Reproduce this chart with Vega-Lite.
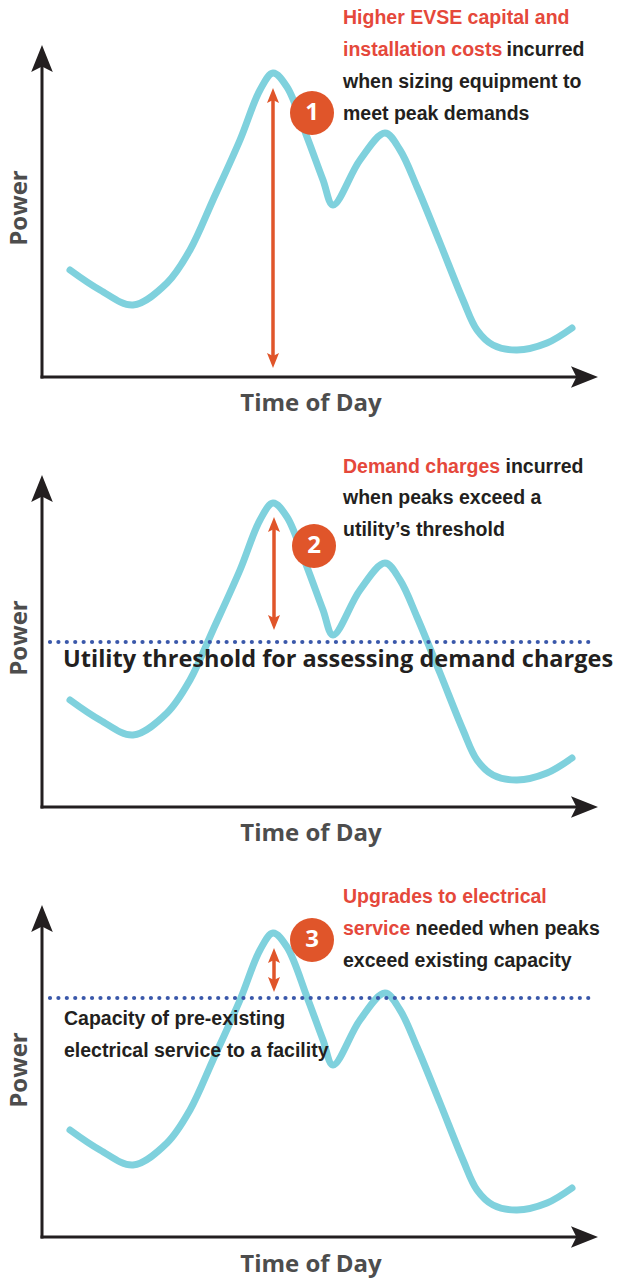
{
  "$schema": "https://vega.github.io/schema/vega-lite/v6.json",
  "padding": 0,
  "spacing": 0,
  "bounds": "flush",
  "background": "white",
  "config": {"view": {"stroke": null}, "axis": {"disable": true}},
  "datasets": {
    "one": [{}],
    "curve": [
      {"t": 28, "power": 107}, {"t": 58, "power": 87}, {"t": 91, "power": 72}, {"t": 125, "power": 94},
      {"t": 148, "power": 127}, {"t": 171, "power": 177}, {"t": 198, "power": 237}, {"t": 218, "power": 287},
      {"t": 231, "power": 304}, {"t": 245, "power": 290}, {"t": 265, "power": 240}, {"t": 281, "power": 197},
      {"t": 291, "power": 172}, {"t": 318, "power": 217}, {"t": 343, "power": 244}, {"t": 358, "power": 227},
      {"t": 375, "power": 190}, {"t": 398, "power": 134}, {"t": 421, "power": 77}, {"t": 435, "power": 47},
      {"t": 451, "power": 32}, {"t": 475, "power": 27}, {"t": 505, "power": 34}, {"t": 530, "power": 49}
    ]
  },
  "vconcat": [
    {
      "width": 623, "height": 430,
      "data": {"name": "one"},
      "layer": [
        {"mark": {"type": "rule", "stroke": "#231f20", "strokeWidth": 3},
         "encoding": {"x": {"datum": 0, "type": "quantitative", "scale": {"domain": [-42, 581], "nice": false, "zero": false}},
                      "y": {"datum": -1.5, "type": "quantitative", "scale": {"domain": [-53, 377], "nice": false, "zero": false}},
                      "y2": {"datum": 312}}},
        {"mark": {"type": "rule", "stroke": "#231f20", "strokeWidth": 3},
         "encoding": {"y": {"datum": 0, "type": "quantitative"}, "x": {"datum": -1.5, "type": "quantitative"}, "x2": {"datum": 537}}},
        {"mark": {"type": "point", "shape": "M0,0L0.8,2L0,1.6L-0.8,2Z", "filled": true, "size": 729, "color": "#231f20", "opacity": 1, "strokeWidth": 0},
         "encoding": {"x": {"datum": 0, "type": "quantitative"}, "y": {"datum": 332, "type": "quantitative"}}},
        {"mark": {"type": "point", "shape": "M0,0L-2,0.8L-1.6,0L-2,-0.8Z", "filled": true, "size": 729, "color": "#231f20", "opacity": 1, "strokeWidth": 0},
         "encoding": {"x": {"datum": 556, "type": "quantitative"}, "y": {"datum": 0, "type": "quantitative"}}},
        {"mark": {"type": "text", "text": "Power", "angle": 270, "font": "Open Sans", "fontWeight": "bold", "fontSize": 24, "color": "#4d4d4d", "align": "center", "baseline": "alphabetic"},
         "encoding": {"x": {"datum": -15, "type": "quantitative"}, "y": {"datum": 169, "type": "quantitative"}}},
        {"mark": {"type": "text", "text": "Time of Day", "font": "Open Sans", "fontWeight": "bold", "fontSize": 24, "color": "#4d4d4d", "align": "center", "baseline": "middle"},
         "encoding": {"x": {"datum": 269, "type": "quantitative"}, "y": {"datum": -27, "type": "quantitative"}}},
        {"data": {"name": "curve"},
         "mark": {"type": "line", "interpolate": "catmull-rom", "stroke": "#7fd1dd", "strokeWidth": 7, "strokeCap": "round", "strokeJoin": "round"},
         "encoding": {"x": {"field": "t", "type": "quantitative", "scale": {"domain": [-42, 581], "nice": false, "zero": false}},
                      "y": {"field": "power", "type": "quantitative", "scale": {"domain": [-53, 377], "nice": false, "zero": false}}}},
        {"mark": {"type": "rule", "stroke": "#e0552a", "strokeWidth": 3.5},
         "encoding": {"x": {"datum": 231, "type": "quantitative"}, "y": {"datum": 20, "type": "quantitative"}, "y2": {"datum": 278}}},
        {"mark": {"type": "point", "shape": "M0,0L0.8,2L0,1.6L-0.8,2Z", "filled": true, "size": 225, "color": "#e0552a", "opacity": 1, "strokeWidth": 0},
         "encoding": {"x": {"datum": 231, "type": "quantitative"}, "y": {"datum": 289, "type": "quantitative"}}},
        {"mark": {"type": "point", "shape": "M0,0L0.8,-2L0,-1.6L-0.8,-2Z", "filled": true, "size": 225, "color": "#e0552a", "opacity": 1, "strokeWidth": 0},
         "encoding": {"x": {"datum": 231, "type": "quantitative"}, "y": {"datum": 9, "type": "quantitative"}}},
        {"mark": {"type": "point", "shape": "circle", "filled": true, "size": 1936, "color": "#e0552a", "opacity": 1, "strokeWidth": 0},
         "encoding": {"x": {"datum": 270, "type": "quantitative"}, "y": {"datum": 264, "type": "quantitative"}}},
        {"mark": {"type": "text", "text": "1", "font": "Open Sans", "fontWeight": "bold", "fontSize": 24, "color": "white", "align": "center", "baseline": "middle"},
         "encoding": {"x": {"datum": 270, "type": "quantitative"}, "y": {"datum": 264, "type": "quantitative"}}},
        {"mark": {"type": "text", "text": "Higher EVSE capital and\ninstallation costs", "lineBreak": "\n", "lineHeight": 32, "font": "Liberation Sans", "fontWeight": "bold", "fontSize": 19.5, "color": "#e5483b", "align": "left", "baseline": "middle"},
         "encoding": {"x": {"datum": 301, "type": "quantitative"}, "y": {"datum": 359, "type": "quantitative"}}},
        {"mark": {"type": "text", "text": "incurred", "font": "Liberation Sans", "fontWeight": "bold", "fontSize": 19.5, "color": "#231f20", "align": "left", "baseline": "middle"},
         "encoding": {"x": {"datum": 464.5, "type": "quantitative"}, "y": {"datum": 327, "type": "quantitative"}}},
        {"mark": {"type": "text", "text": "when sizing equipment to\nmeet peak demands", "lineBreak": "\n", "lineHeight": 32, "font": "Liberation Sans", "fontWeight": "bold", "fontSize": 19.5, "color": "#231f20", "align": "left", "baseline": "middle"},
         "encoding": {"x": {"datum": 301, "type": "quantitative"}, "y": {"datum": 295, "type": "quantitative"}}}
      ]
    },
    {
      "width": 623, "height": 430,
      "data": {"name": "one"},
      "layer": [
        {"mark": {"type": "rule", "stroke": "#231f20", "strokeWidth": 3},
         "encoding": {"x": {"datum": 0, "type": "quantitative", "scale": {"domain": [-42, 581], "nice": false, "zero": false}},
                      "y": {"datum": -1.5, "type": "quantitative", "scale": {"domain": [-53, 377], "nice": false, "zero": false}},
                      "y2": {"datum": 312}}},
        {"mark": {"type": "rule", "stroke": "#231f20", "strokeWidth": 3},
         "encoding": {"y": {"datum": 0, "type": "quantitative"}, "x": {"datum": -1.5, "type": "quantitative"}, "x2": {"datum": 537}}},
        {"mark": {"type": "point", "shape": "M0,0L0.8,2L0,1.6L-0.8,2Z", "filled": true, "size": 729, "color": "#231f20", "opacity": 1, "strokeWidth": 0},
         "encoding": {"x": {"datum": 0, "type": "quantitative"}, "y": {"datum": 332, "type": "quantitative"}}},
        {"mark": {"type": "point", "shape": "M0,0L-2,0.8L-1.6,0L-2,-0.8Z", "filled": true, "size": 729, "color": "#231f20", "opacity": 1, "strokeWidth": 0},
         "encoding": {"x": {"datum": 556, "type": "quantitative"}, "y": {"datum": 0, "type": "quantitative"}}},
        {"mark": {"type": "text", "text": "Power", "angle": 270, "font": "Open Sans", "fontWeight": "bold", "fontSize": 24, "color": "#4d4d4d", "align": "center", "baseline": "alphabetic"},
         "encoding": {"x": {"datum": -15, "type": "quantitative"}, "y": {"datum": 169, "type": "quantitative"}}},
        {"mark": {"type": "text", "text": "Time of Day", "font": "Open Sans", "fontWeight": "bold", "fontSize": 24, "color": "#4d4d4d", "align": "center", "baseline": "middle"},
         "encoding": {"x": {"datum": 269, "type": "quantitative"}, "y": {"datum": -27, "type": "quantitative"}}},
        {"data": {"name": "curve"},
         "mark": {"type": "line", "interpolate": "catmull-rom", "stroke": "#7fd1dd", "strokeWidth": 7, "strokeCap": "round", "strokeJoin": "round"},
         "encoding": {"x": {"field": "t", "type": "quantitative", "scale": {"domain": [-42, 581], "nice": false, "zero": false}},
                      "y": {"field": "power", "type": "quantitative", "scale": {"domain": [-53, 377], "nice": false, "zero": false}}}},
        {"mark": {"type": "rule", "stroke": "#3a58aa", "strokeWidth": 4.2, "strokeDash": [0.01, 8.4], "strokeCap": "round"},
         "encoding": {"y": {"datum": 165, "type": "quantitative"}, "x": {"datum": 8, "type": "quantitative"}, "x2": {"datum": 554}}},
        {"mark": {"type": "text", "text": "Utility threshold for assessing demand charges", "font": "Open Sans", "fontWeight": "bold", "fontSize": 23.5, "color": "#231f20", "align": "left", "baseline": "middle"},
         "encoding": {"x": {"datum": 21, "type": "quantitative"}, "y": {"datum": 147, "type": "quantitative"}}},
        {"mark": {"type": "rule", "stroke": "#e0552a", "strokeWidth": 3.5},
         "encoding": {"x": {"datum": 232, "type": "quantitative"}, "y": {"datum": 188, "type": "quantitative"}, "y2": {"datum": 279}}},
        {"mark": {"type": "point", "shape": "M0,0L0.8,2L0,1.6L-0.8,2Z", "filled": true, "size": 225, "color": "#e0552a", "opacity": 1, "strokeWidth": 0},
         "encoding": {"x": {"datum": 232, "type": "quantitative"}, "y": {"datum": 290, "type": "quantitative"}}},
        {"mark": {"type": "point", "shape": "M0,0L0.8,-2L0,-1.6L-0.8,-2Z", "filled": true, "size": 225, "color": "#e0552a", "opacity": 1, "strokeWidth": 0},
         "encoding": {"x": {"datum": 232, "type": "quantitative"}, "y": {"datum": 177, "type": "quantitative"}}},
        {"mark": {"type": "point", "shape": "circle", "filled": true, "size": 1936, "color": "#e0552a", "opacity": 1, "strokeWidth": 0},
         "encoding": {"x": {"datum": 272, "type": "quantitative"}, "y": {"datum": 261, "type": "quantitative"}}},
        {"mark": {"type": "text", "text": "2", "font": "Open Sans", "fontWeight": "bold", "fontSize": 24, "color": "white", "align": "center", "baseline": "middle"},
         "encoding": {"x": {"datum": 272, "type": "quantitative"}, "y": {"datum": 261, "type": "quantitative"}}},
        {"mark": {"type": "text", "text": "Demand charges", "font": "Liberation Sans", "fontWeight": "bold", "fontSize": 19.5, "color": "#e5483b", "align": "left", "baseline": "middle"},
         "encoding": {"x": {"datum": 301, "type": "quantitative"}, "y": {"datum": 340, "type": "quantitative"}}},
        {"mark": {"type": "text", "text": "incurred", "font": "Liberation Sans", "fontWeight": "bold", "fontSize": 19.5, "color": "#231f20", "align": "left", "baseline": "middle"},
         "encoding": {"x": {"datum": 463.5, "type": "quantitative"}, "y": {"datum": 340, "type": "quantitative"}}},
        {"mark": {"type": "text", "text": "when peaks exceed a\nutility’s threshold", "lineBreak": "\n", "lineHeight": 32, "font": "Liberation Sans", "fontWeight": "bold", "fontSize": 19.5, "color": "#231f20", "align": "left", "baseline": "middle"},
         "encoding": {"x": {"datum": 301, "type": "quantitative"}, "y": {"datum": 309, "type": "quantitative"}}}
      ]
    },
    {
      "width": 623, "height": 420,
      "data": {"name": "one"},
      "layer": [
        {"mark": {"type": "rule", "stroke": "#231f20", "strokeWidth": 3},
         "encoding": {"x": {"datum": 0, "type": "quantitative", "scale": {"domain": [-42, 581], "nice": false, "zero": false}},
                      "y": {"datum": -1.5, "type": "quantitative", "scale": {"domain": [-43, 377], "nice": false, "zero": false}},
                      "y2": {"datum": 312}}},
        {"mark": {"type": "rule", "stroke": "#231f20", "strokeWidth": 3},
         "encoding": {"y": {"datum": 0, "type": "quantitative"}, "x": {"datum": -1.5, "type": "quantitative"}, "x2": {"datum": 537}}},
        {"mark": {"type": "point", "shape": "M0,0L0.8,2L0,1.6L-0.8,2Z", "filled": true, "size": 729, "color": "#231f20", "opacity": 1, "strokeWidth": 0},
         "encoding": {"x": {"datum": 0, "type": "quantitative"}, "y": {"datum": 332, "type": "quantitative"}}},
        {"mark": {"type": "point", "shape": "M0,0L-2,0.8L-1.6,0L-2,-0.8Z", "filled": true, "size": 729, "color": "#231f20", "opacity": 1, "strokeWidth": 0},
         "encoding": {"x": {"datum": 556, "type": "quantitative"}, "y": {"datum": 0, "type": "quantitative"}}},
        {"mark": {"type": "text", "text": "Power", "angle": 270, "font": "Open Sans", "fontWeight": "bold", "fontSize": 24, "color": "#4d4d4d", "align": "center", "baseline": "alphabetic"},
         "encoding": {"x": {"datum": -15, "type": "quantitative"}, "y": {"datum": 167, "type": "quantitative"}}},
        {"mark": {"type": "text", "text": "Time of Day", "font": "Open Sans", "fontWeight": "bold", "fontSize": 24, "color": "#4d4d4d", "align": "center", "baseline": "middle"},
         "encoding": {"x": {"datum": 269, "type": "quantitative"}, "y": {"datum": -28, "type": "quantitative"}}},
        {"data": {"name": "curve"},
         "mark": {"type": "line", "interpolate": "catmull-rom", "stroke": "#7fd1dd", "strokeWidth": 7, "strokeCap": "round", "strokeJoin": "round"},
         "encoding": {"x": {"field": "t", "type": "quantitative", "scale": {"domain": [-42, 581], "nice": false, "zero": false}},
                      "y": {"field": "power", "type": "quantitative", "scale": {"domain": [-43, 377], "nice": false, "zero": false}}}},
        {"mark": {"type": "rule", "stroke": "#3a58aa", "strokeWidth": 4.2, "strokeDash": [0.01, 8.4], "strokeCap": "round"},
         "encoding": {"y": {"datum": 239, "type": "quantitative"}, "x": {"datum": 8, "type": "quantitative"}, "x2": {"datum": 554}}},
        {"mark": {"type": "text", "text": "Capacity of pre-existing\nelectrical service to a facility", "lineBreak": "\n", "lineHeight": 32, "font": "Liberation Sans", "fontWeight": "bold", "fontSize": 19.5, "color": "#231f20", "align": "left", "baseline": "middle"},
         "encoding": {"x": {"datum": 22, "type": "quantitative"}, "y": {"datum": 218, "type": "quantitative"}}},
        {"mark": {"type": "rule", "stroke": "#e0552a", "strokeWidth": 3.5},
         "encoding": {"x": {"datum": 232, "type": "quantitative"}, "y": {"datum": 256, "type": "quantitative"}, "y2": {"datum": 278}}},
        {"mark": {"type": "point", "shape": "M0,0L0.8,2L0,1.6L-0.8,2Z", "filled": true, "size": 225, "color": "#e0552a", "opacity": 1, "strokeWidth": 0},
         "encoding": {"x": {"datum": 232, "type": "quantitative"}, "y": {"datum": 289, "type": "quantitative"}}},
        {"mark": {"type": "point", "shape": "M0,0L0.8,-2L0,-1.6L-0.8,-2Z", "filled": true, "size": 225, "color": "#e0552a", "opacity": 1, "strokeWidth": 0},
         "encoding": {"x": {"datum": 232, "type": "quantitative"}, "y": {"datum": 245, "type": "quantitative"}}},
        {"mark": {"type": "point", "shape": "circle", "filled": true, "size": 1936, "color": "#e0552a", "opacity": 1, "strokeWidth": 0},
         "encoding": {"x": {"datum": 270, "type": "quantitative"}, "y": {"datum": 297, "type": "quantitative"}}},
        {"mark": {"type": "text", "text": "3", "font": "Open Sans", "fontWeight": "bold", "fontSize": 24, "color": "white", "align": "center", "baseline": "middle"},
         "encoding": {"x": {"datum": 270, "type": "quantitative"}, "y": {"datum": 297, "type": "quantitative"}}},
        {"mark": {"type": "text", "text": "Upgrades to electrical\nservice", "lineBreak": "\n", "lineHeight": 32, "font": "Liberation Sans", "fontWeight": "bold", "fontSize": 19.5, "color": "#e5483b", "align": "left", "baseline": "middle"},
         "encoding": {"x": {"datum": 301, "type": "quantitative"}, "y": {"datum": 340, "type": "quantitative"}}},
        {"mark": {"type": "text", "text": "needed when peaks", "font": "Liberation Sans", "fontWeight": "bold", "fontSize": 19.5, "color": "#231f20", "align": "left", "baseline": "middle"},
         "encoding": {"x": {"datum": 373.5, "type": "quantitative"}, "y": {"datum": 308, "type": "quantitative"}}},
        {"mark": {"type": "text", "text": "exceed existing capacity", "font": "Liberation Sans", "fontWeight": "bold", "fontSize": 19.5, "color": "#231f20", "align": "left", "baseline": "middle"},
         "encoding": {"x": {"datum": 301, "type": "quantitative"}, "y": {"datum": 276, "type": "quantitative"}}}
      ]
    }
  ]
}
